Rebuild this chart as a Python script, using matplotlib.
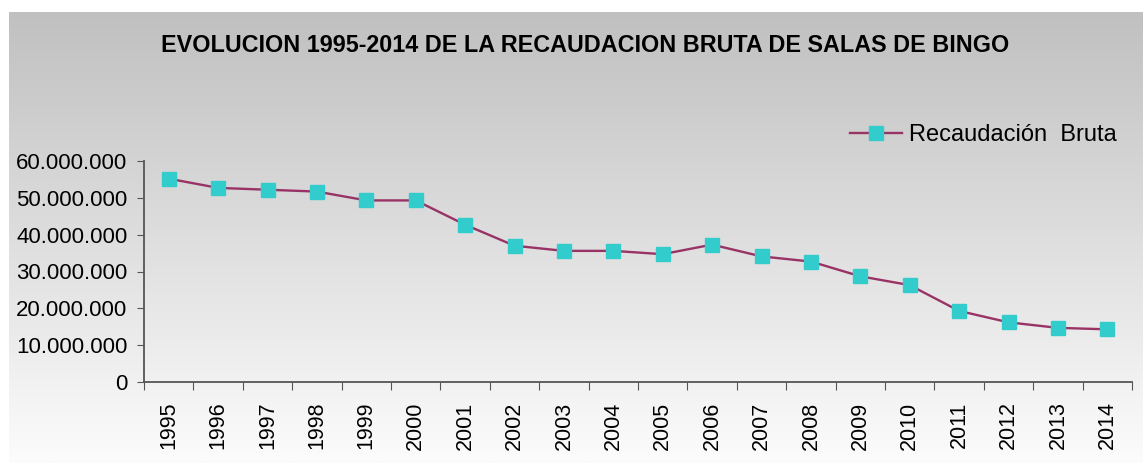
import numpy as np
import matplotlib
matplotlib.use("Agg")
import matplotlib.pyplot as plt
from matplotlib.colors import LinearSegmentedColormap
from matplotlib.ticker import FuncFormatter

plt.rcParams['font.family'] = ['Liberation Sans', 'DejaVu Sans']

years = [str(y) for y in range(1995, 2015)]
recaudacion = [55.2, 52.7, 52.2, 51.7, 49.3, 49.3, 42.7, 37.0, 35.6, 35.6,
               34.7, 37.3, 34.1, 32.7, 28.7, 26.3, 19.3, 16.2, 14.7, 14.3]
recaudacion = [v * 1e6 for v in recaudacion]

title = "EVOLUCION 1995-2014 DE LA RECAUDACION BRUTA DE SALAS DE BINGO"
serie = "Recaudación  Bruta"

W, H = 1143, 467
fig = plt.figure(figsize=(W / 100, H / 100), dpi=100)
fig.patch.set_facecolor('white')

# gradient panel behind everything
bg = fig.add_axes([9 / W, 1 - 463 / H, (W - 9) / W, (463 - 12) / H])
cmap = LinearSegmentedColormap.from_list('bg', ['#c0c0c0', '#fcfcfc'])
bg.imshow(np.linspace(0, 1, 256).reshape(-1, 1), aspect='auto', cmap=cmap,
          extent=[0, 1, 0, 1])
bg.axis('off')
bg.set_zorder(0)

ax = fig.add_axes([144 / W, 1 - 382 / H, (1132 - 144) / W, (382 - 161) / H])
ax.set_zorder(1)
ax.patch.set_alpha(0)

x = np.arange(len(years))
ax.plot(x, recaudacion, color='#993366', linewidth=1.7, marker='s',
        markersize=9.5, markerfacecolor='#33CCCC', markeredgecolor='#33CCCC',
        label=serie)

ax.set_xlim(-0.5, len(years) - 0.5)
ax.set_ylim(0, 60e6)
ax.set_yticks(np.arange(0, 60e6 + 1, 10e6))
ax.yaxis.set_major_formatter(FuncFormatter(lambda v, p: f"{int(v):,}".replace(',', '.')))

ax.set_xticks(np.arange(len(years) + 1) - 0.5)
ax.set_xticklabels([])
ax.set_xticks(x, minor=True)
ax.set_xticklabels(years, minor=True, rotation=90)
ax.tick_params(axis='x', which='minor', length=0, pad=14, labelsize=15.5)
ax.tick_params(axis='x', which='major', length=5.5, direction='out', color='#555555')
ax.tick_params(axis='y', length=5, direction='out', color='#555555', labelsize=16, pad=7)

for s in ['top', 'right']:
    ax.spines[s].set_visible(False)
for s in ['left', 'bottom']:
    ax.spines[s].set_color('#555555')
    ax.spines[s].set_linewidth(1.3)

fig.text(585 / W, 1 - 45 / H, title, ha='center', va='center',
         fontsize=16.8, fontweight='bold')

ax.legend(loc='center left', bbox_to_anchor=(829 / W, 1 - 135 / H),
          bbox_transform=fig.transFigure, frameon=False,
          fontsize=17, handlelength=2.2, handletextpad=0.3)

fig.savefig('out.png', dpi=100)
